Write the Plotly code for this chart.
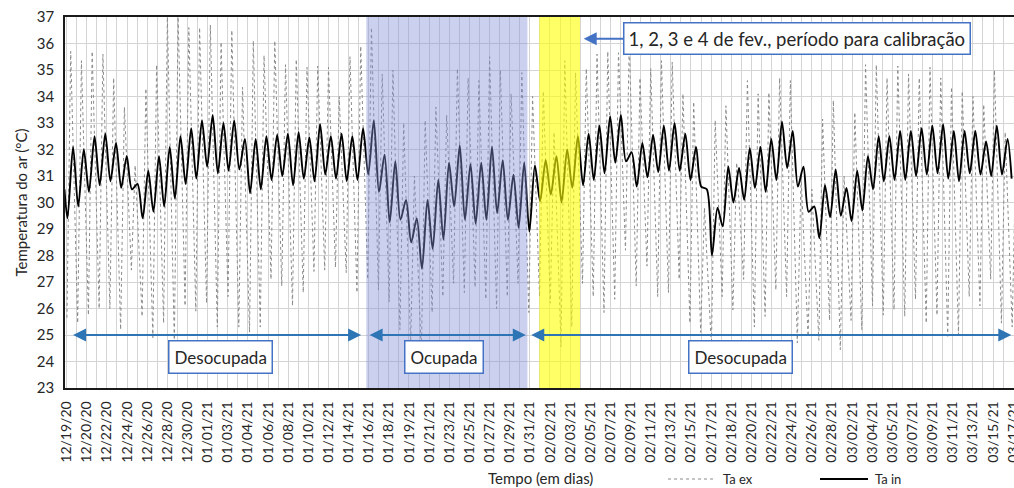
import plotly.graph_objects as go
import pandas as pd

START = pd.Timestamp("2020-12-19")

tick_labels = [
    "12/19/20", "12/20/20", "12/22/20", "12/24/20", "12/26/20", "12/28/20", "12/30/20",
    "01/01/21", "01/03/21", "01/04/21", "01/06/21", "01/08/21", "01/10/21", "01/12/21",
    "01/14/21", "01/16/21", "01/18/21", "01/19/21", "01/21/21", "01/23/21", "01/25/21",
    "01/27/21", "01/29/21", "01/31/21", "02/02/21", "02/03/21", "02/05/21", "02/07/21",
    "02/09/21", "02/11/21", "02/13/21", "02/15/21", "02/17/21", "02/18/21", "02/20/21",
    "02/22/21", "02/24/21", "02/26/21", "02/28/21", "03/02/21", "03/04/21", "03/05/21",
    "03/07/21", "03/09/21", "03/11/21", "03/13/21", "03/15/21", "03/17/21",
]

# Ta ex: daily minimum (early morning) and maximum (afternoon), day 0 = 12/19/20
ta_ex_min = [
    25.65, 25.45, 25.75, 26.0, 26.0, 25.2, 27.45, 25.7, 24.9, 25.45,
    24.7, 26.1, 25.9, 26.2, 25.3, 26.45, 25.3, 25.1, 25.3, 27.1,
    26.85, 26.1, 26.6, 27.4, 27.45, 27.55, 27.35, 26.6, 27.1, 26.7,
    26.25, 25.2, 24.7, 24.3, 25.85, 26.45, 26.95, 26.6, 26.8, 26.35,
    26.0, 26.45, 26.95, 25.85, 26.45, 26.2, 24.55, 25.3, 26.95, 26.45,
    25.85, 26.35, 28.2, 26.85, 27.6, 26.45, 26.6, 27.1, 25.45, 25.1,
    24.55, 26.45, 25.95, 27.1, 25.3, 25.7, 26.7, 26.45, 24.7, 24.95,
    24.8, 25.55, 24.45, 25.55, 25.2, 26.1, 25.75, 25.95, 25.7, 26.35,
    25.45, 25.75, 24.95, 25.0, 26.45, 26.1, 27.1, 25.45, 25.3,
]
ta_ex_max = [
    35.7, 35.35, 35.7, 35.6, 34.7, 33.6, 31.4, 34.3, 35.2, 37.0,
    37.0, 36.6, 36.6, 36.7, 36.05, 36.5, 34.35, 36.1, 35.55, 36.1,
    35.2, 35.4, 35.1, 35.15, 35.1, 34.0, 35.5, 35.9, 36.6, 34.85,
    35.0, 33.0, 31.0, 33.1, 33.6, 33.3, 35.05, 34.7, 34.6, 35.5,
    35.0, 34.1, 34.9, 34.0, 34.2, 32.65, 35.35, 34.9, 35.05, 35.6,
    35.7, 35.65, 36.0, 34.7, 35.05, 35.35, 35.3, 34.1, 33.8, 29.8,
    33.1, 33.65, 31.5, 34.6, 34.1, 34.15, 34.7, 34.6, 31.0, 30.5,
    33.15, 33.85, 31.0, 33.4, 35.2, 35.2, 34.7, 35.15, 34.85, 34.7,
    35.1, 34.7, 34.35, 34.2, 34.0, 33.7, 35.0, 32.65, 32.0,
]

# Ta in: daily low (morning) and high (afternoon), day 0 = 12/19/20
ta_in_start = 30.5
ta_in_low = [
    29.4, 29.85, 30.4, 30.65, 30.8, 30.55, 30.5, 29.4, 29.65, 29.85,
    30.15, 30.7, 30.9, 31.35, 31.1, 31.2, 31.25, 30.35, 30.5, 30.85,
    31.0, 30.65, 30.9, 30.8, 31.05, 30.9, 30.8, 30.85, 31.05, 30.4,
    29.25, 29.35, 28.5, 27.5, 28.25, 28.6, 29.85, 29.35, 29.2, 29.35,
    29.6, 29.35, 29.05, 28.9, 30.05, 30.3, 30.0, 30.55, 30.65, 30.85,
    31.1, 31.5, 31.55, 30.6, 30.95, 31.15, 31.2, 31.2, 30.85, 30.6,
    28.0, 29.1, 30.0, 30.1, 30.55, 30.4, 30.85, 31.3, 30.6, 29.65,
    28.65, 29.45, 29.5, 29.3, 29.7, 30.5, 30.8, 30.85, 30.85, 31.0,
    31.05, 31.1, 30.9, 30.8, 31.1, 31.05, 31.0, 31.05,
]
ta_in_high = [
    32.1, 32.0, 32.5, 32.6, 32.25, 31.75, 30.7, 31.2, 31.75, 32.1,
    32.5, 32.8, 33.1, 33.3, 33.0, 33.1, 32.4, 32.4, 32.5, 32.55,
    32.6, 32.65, 32.45, 32.95, 32.5, 32.6, 32.5, 32.8, 33.1, 31.8,
    31.55, 30.1, 29.4, 30.1, 30.85, 31.5, 32.15, 31.45, 31.5, 32.1,
    31.6, 31.05, 31.5, 31.4, 31.6, 31.75, 32.0, 32.5, 32.6, 32.9,
    33.25, 33.3, 31.9, 32.25, 32.55, 32.9, 33.0, 32.6, 32.1, 30.5,
    29.8, 31.35, 31.3, 32.05, 32.1, 32.4, 33.05, 32.7, 31.35, 29.85,
    30.65, 31.25, 30.55, 31.2, 31.75, 32.5, 32.5, 32.7, 32.7, 32.8,
    32.9, 32.95, 32.7, 32.7, 32.7, 32.3, 32.9, 32.4,
]
ta_in_end = 30.9


def t(days):
    return START + pd.Timedelta(hours=days * 24)


def ts(days):
    return t(days).strftime("%Y-%m-%d %H:%M:%S")


x_ex, y_ex = [], []
for d, (lo, hi) in enumerate(zip(ta_ex_min, ta_ex_max)):
    x_ex += [t(d + 0.03), t(d + 0.38)]
    y_ex += [lo, hi]

x_in, y_in = [t(-0.2)], [ta_in_start]
for d, (lo, hi) in enumerate(zip(ta_in_low, ta_in_high)):
    x_in += [t(d + 0.08), t(d + 0.6)]
    y_in += [lo, hi]
x_in.append(t(len(ta_in_low) - 0.02))
y_in.append(ta_in_end)

FONT = "Lato, 'Open Sans', sans-serif"
TXT = "#262626"
GRID = "#d4d4d4"
BLUE_ARROW = "#2e75b6"
BOX = "#4472c4"
EX_COLOR = "#8a8a8a"

L, R, T, B = 65, 0, 17, 100
PW, PH = 1014 - L - R, 488 - T - B


def px(xp):
    return (xp - L) / PW


def py(yp):
    return (488 - B - yp) / PH


fig = go.Figure()
fig.add_trace(go.Scatter(
    x=x_ex, y=y_ex, mode="lines", name="Ta ex",
    line=dict(color=EX_COLOR, width=1.0, dash="dot"),
))
fig.add_trace(go.Scatter(
    x=x_in, y=y_in, mode="lines", name="Ta in",
    line=dict(color="#000000", width=1.9, shape="spline", smoothing=0.8),
))

# shaded periods
fig.add_shape(type="rect", xref="x", yref="y", x0=ts(27.9), x1=ts(42.9), y0=23, y1=37,
              fillcolor="rgba(130,143,215,0.42)", line=dict(width=0), layer="above")
fig.add_shape(type="rect", xref="x", yref="y", x0=ts(44.0), x1=ts(47.8), y0=23, y1=37,
              fillcolor="rgba(255,255,0,0.6)", line=dict(width=0), layer="above")

# manual legend samples
fig.add_shape(type="line", xref="paper", yref="paper", x0=px(668), x1=px(716),
              y0=py(479), y1=py(479), line=dict(color=EX_COLOR, width=1.0, dash="dot"))
fig.add_shape(type="line", xref="paper", yref="paper", x0=px(820), x1=px(868),
              y0=py(479), y1=py(479), line=dict(color="#000000", width=1.8))

annotations = []
for label, xp in [("Ta ex", 721), ("Ta in", 873)]:
    annotations.append(dict(
        x=px(xp), y=py(479), xref="paper", yref="paper", text=label, showarrow=False,
        xanchor="left", yanchor="middle", font=dict(family=FONT, size=13, color=TXT),
    ))
# double-headed arrows
for a, b in [(0.46, 27.42), (28.07, 42.75), (43.12, 87.95)]:
    annotations.append(dict(
        x=ts(b), y=25.0, ax=ts(a), ay=25.0, xref="x", yref="y", axref="x", ayref="y",
        text="", showarrow=True, arrowhead=2, arrowside="end+start", arrowsize=1.3,
        arrowwidth=2, arrowcolor=BLUE_ARROW,
    ))
# period labels
for label, xc in [("Desocupada", 14.31), ("Ocupada", 35.13), ("Desocupada", 62.73)]:
    annotations.append(dict(
        x=ts(xc), y=24.17, xref="x", yref="y", text=label, showarrow=False,
        font=dict(family=FONT, size=17, color=TXT), bgcolor="white",
        bordercolor=BOX, borderwidth=1.5, borderpad=5,
    ))
# calibration callout
annotations.append(dict(
    x=ts(48.14), y=36.18, xref="x", yref="y", ax=213, ay=0,
    text="1, 2, 3 e 4 de fev., período para calibração", showarrow=True,
    arrowhead=2, arrowsize=1.3, arrowwidth=2, arrowcolor=BOX,
    font=dict(family=FONT, size=18.5, color=TXT), bgcolor="white",
    bordercolor=BOX, borderwidth=1.5, borderpad=4,
))
# axis titles
annotations.append(dict(
    x=px(540), y=py(478), xref="paper", yref="paper",
    text="Tempo (em dias)", showarrow=False, xanchor="center", yanchor="middle",
    font=dict(family=FONT, size=15, color=TXT),
))
annotations.append(dict(
    x=px(20), y=0.5, xref="paper", yref="paper",
    text="Temperatura do ar (°C)", showarrow=False, textangle=-90,
    xanchor="center", yanchor="middle",
    font=dict(family=FONT, size=15, color=TXT),
))

tickvals = [t(i * 1.875) for i in range(len(tick_labels))]
minorvals = [t(i * 1.875 + 0.9375) for i in range(len(tick_labels))]

fig.update_layout(
    width=1014, height=488,
    margin=dict(l=L, r=R, t=T, b=B),
    plot_bgcolor="white", paper_bgcolor="white",
    font=dict(family=FONT, color=TXT),
    annotations=annotations,
    showlegend=False,
    xaxis=dict(
        type="date", range=[t(-0.15), t(88.2)],
        tickmode="array", tickvals=tickvals, ticktext=tick_labels, tickangle=-90,
        tickfont=dict(family=FONT, size=14, color=TXT), ticklabelstandoff=6,
        ticklabeloverflow="allow",
        showgrid=True, gridcolor=GRID, gridwidth=1,
        minor=dict(tickmode="array", tickvals=minorvals, showgrid=True, gridcolor=GRID, gridwidth=1),
        showline=True, linecolor="#1a1a1a", linewidth=1.5, mirror=True,
        zeroline=False, ticks="", automargin=False,
    ),
    yaxis=dict(
        range=[23, 37], dtick=1, tick0=23,
        tickfont=dict(family=FONT, size=15, color=TXT),
        showgrid=True, gridcolor=GRID, gridwidth=1,
        showline=True, linecolor="#1a1a1a", linewidth=1.5,
        zeroline=False, ticks="", ticklabelstandoff=6, automargin=False,
    ),
)

fig.write_html(
    "out.html",
    config={"displayModeBar": False},
    post_script="document.body.style.margin='0';document.body.style.overflow='hidden';",
)
